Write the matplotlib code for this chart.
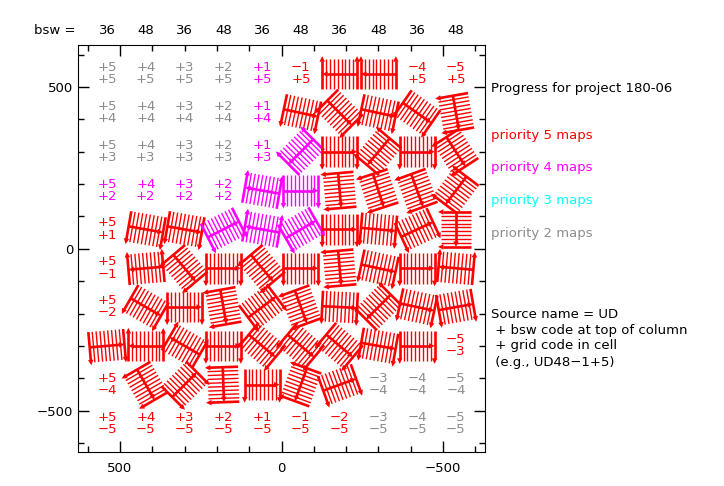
import numpy as np
import matplotlib
matplotlib.use('Agg')
import matplotlib.pyplot as plt
from matplotlib.ticker import MultipleLocator

# grid codes (column / row) and the bsw code at the top of each column
col_codes = [5, 4, 3, 2, 1, -1, -2, -3, -4, -5]
bsw = [36, 48, 36, 48, 36, 48, 36, 48, 36, 48]

# cells that still show only their code: row, column, priority
label_row = [5, 5, 5, 5, 5, 5, 5, 5,
             4, 4, 4, 4, 4,
             3, 3, 3, 3, 3,
             2, 2, 2, 2,
             1, -1, -2, -3,
             -4, -4, -4, -4,
             -5, -5, -5, -5, -5, -5, -5, -5, -5, -5]
label_col = [5, 4, 3, 2, 1, -1, -4, -5,
             5, 4, 3, 2, 1,
             5, 4, 3, 2, 1,
             5, 4, 3, 2,
             5, 5, 5, -5,
             5, -3, -4, -5,
             5, 4, 3, 2, 1, -1, -2, -3, -4, -5]
label_prio = [2, 2, 2, 2, 4, 5, 5, 5,
              2, 2, 2, 2, 4,
              2, 2, 2, 2, 4,
              4, 4, 4, 4,
              5, 5, 5, 5,
              5, 2, 2, 2,
              5, 5, 5, 5, 5, 5, 5, 2, 2, 2]

# cells with a finished map: row, column, scan angle (deg), priority
map_row = [5, 5,
           4, 4, 4, 4, 4,
           3, 3, 3, 3, 3,
           2, 2, 2, 2, 2, 2,
           1, 1, 1, 1, 1, 1, 1, 1, 1,
           -1, -1, -1, -1, -1, -1, -1, -1, -1,
           -2, -2, -2, -2, -2, -2, -2, -2, -2,
           -3, -3, -3, -3, -3, -3, -3, -3, -3,
           -4, -4, -4, -4, -4, -4]
map_col = [-2, -3,
           -1, -2, -3, -4, -5,
           -1, -2, -3, -4, -5,
           1, -1, -2, -3, -4, -5,
           4, 3, 2, 1, -1, -2, -3, -4, -5,
           4, 3, 2, 1, -1, -2, -3, -4, -5,
           4, 3, 2, 1, -1, -2, -3, -4, -5,
           5, 4, 3, 2, 1, -1, -2, -3, -4,
           4, 3, 2, 1, -1, -2]
map_angle = [180, 180,
             -12, -45, -12, -35, -80,
             -135, 0, -130, 0, -57,
             170, 0, -85, -72, -70, -127,
             -10, -10, 27, 170, 30, 0, -5, 25, -90,
             185, -50, 0, -50, 0, -85, -12, 0, 175,
             -30, 0, -80, 37, -70, -3, -135, -12, 10,
             5, 180, 150, 0, -40, -40, -40, -10, 0,
             -60, 45, -88, 0, -110, 20]
map_prio = [5, 5,
            5, 5, 5, 5, 5,
            4, 5, 5, 5, 5,
            4, 4, 5, 5, 5, 5,
            5, 5, 4, 4, 4, 5, 5, 5, 5,
            5, 5, 5, 5, 5, 5, 5, 5, 5,
            5, 5, 5, 5, 5, 5, 5, 5, 5,
            5, 5, 5, 5, 5, 5, 5, 5, 5,
            5, 5, 5, 5, 5, 5]

prio_color = {5: '#ff0000', 4: '#ff00ff', 3: '#00ffff', 2: '#8c8c8c'}


def code_pos(code):
    return np.sign(code) * (abs(code) * 120 - 60)


def code_str(code):
    return ('+%d' % code) if code > 0 else '\u2212%d' % abs(code)


def arrow_head(ax, tip, d, color, h=17):
    n = np.array([-d[1], d[0]])
    base = tip - d * h
    pts = np.array([tip, base + n * h * 0.5, base - n * h * 0.5])
    ax.fill(pts[:, 0], pts[:, 1], color=color, lw=0, zorder=3)


def draw_map(ax, cx, cy, angle, color, w=108, h=95, nscan=10):
    t = np.radians(angle)
    u = np.array([np.cos(t), np.sin(t)])       # step direction (screen)
    v = np.array([-np.sin(t), np.cos(t)])      # scan direction (screen)
    c = np.array([cx, cy])
    # x axis runs right to left, so flip the x offsets
    flip = np.array([-1.0, 1.0])

    def p(vec):
        return c + vec * flip

    for i in range(nscan):
        a = -w / 2 + i * w / (nscan - 1)
        outer = i in (0, nscan - 1)
        p0 = p(a * u + h / 2 * v)
        p1 = p(a * u - (h / 2 + (8 if outer else 0)) * v)
        pe = p(a * u - (h / 2 - 6 if outer else h / 2) * v)
        ax.plot([p0[0], pe[0]], [p0[1], pe[1]], color=color,
                lw=1.9 if outer else 1.0, solid_capstyle='butt')
        if outer:
            arrow_head(ax, p1, (-v) * flip, color)
    m0 = p(-w / 2 * u)
    m1 = p(w / 2 * u)
    me = p((w / 2 - 14) * u)
    ax.plot([m0[0], me[0]], [m0[1], me[1]], color=color, lw=1.9,
            solid_capstyle='butt')
    arrow_head(ax, m1, u * flip, color)


fig = plt.figure(figsize=(7.24, 4.86), dpi=100)
ax = fig.add_axes([78 / 724, 1 - 452 / 486, 407 / 724, 407 / 486])

for r, cc, pr in zip(label_row, label_col, label_prio):
    x, y = code_pos(cc), code_pos(r)
    ax.text(x, y + 20, code_str(cc), color=prio_color[pr], ha='center',
            va='center', fontsize=9.5)
    ax.text(x, y - 18, code_str(r), color=prio_color[pr], ha='center',
            va='center', fontsize=9.5)

for r, cc, ang, pr in zip(map_row, map_col, map_angle, map_prio):
    draw_map(ax, code_pos(cc), code_pos(r), ang, prio_color[pr])

for cc, b in zip(col_codes, bsw):
    ax.text(code_pos(cc), 676, str(b), ha='center', va='center',
            fontsize=9.5, clip_on=False)
fig.text(34 / 724, 1 - 30 / 486, 'bsw =', ha='left', va='center',
         fontsize=9.5)

ax.set_xlim(630, -630)
ax.set_ylim(-628, 630)
ax.xaxis.set_major_locator(MultipleLocator(500))
ax.xaxis.set_minor_locator(MultipleLocator(100))
ax.yaxis.set_major_locator(MultipleLocator(500))
ax.yaxis.set_minor_locator(MultipleLocator(100))
ax.tick_params(which='both', direction='in', top=True, right=True,
               labelsize=9.5)
ax.tick_params(which='major', length=8, width=1)
ax.tick_params(which='minor', length=4, width=1)
ax.tick_params(axis='x', pad=7)

tx = 491 / 724
fig.text(tx, 1 - 88 / 486, 'Progress for project 180-06', va='center',
         fontsize=9.5)
legend_txt = ['priority 5 maps', 'priority 4 maps', 'priority 3 maps',
              'priority 2 maps']
legend_y = [135, 168, 200, 233]
for s, yy, pr in zip(legend_txt, legend_y, [5, 4, 3, 2]):
    fig.text(tx, 1 - yy / 486, s, color=prio_color[pr], va='center',
             fontsize=9.5)

note = ['Source name = UD', ' + bsw code at top of column',
        ' + grid code in cell', ' (e.g., UD48\u22121+5)']
for i, s in enumerate(note):
    fig.text(tx, 1 - (314 + 16 * i) / 486, s, va='center', fontsize=9.5)

fig.savefig('out.png', dpi=100)
